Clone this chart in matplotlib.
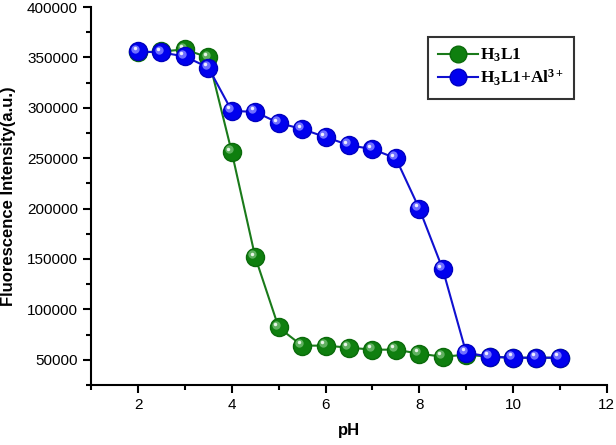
import matplotlib
matplotlib.use('Agg')
import matplotlib.pyplot as plt
import matplotlib.transforms as mtransforms
from matplotlib.lines import Line2D

ph = [2, 2.5, 3, 3.5, 4, 4.5, 5, 5.5, 6, 6.5, 7, 7.5, 8, 8.5, 9, 9.5, 10, 10.5, 11]
h3l1 = [355000, 356000, 358000, 350000, 256000, 152000, 82000, 64000, 64000, 62000,
        60000, 60000, 56000, 53000, 55000, 53000, 52000, 52000, 52000]
h3l1_al = [356000, 355000, 351000, 340000, 297000, 296000, 285000, 279000, 271000, 263000,
           259000, 250000, 200000, 140000, 57000, 53000, 52000, 52000, 52000]

plt.rcParams['font.family'] = ['Liberation Sans', 'DejaVu Sans']
plt.rcParams['mathtext.fontset'] = 'custom'
plt.rcParams['mathtext.rm'] = 'Liberation Serif:bold'
plt.rcParams['mathtext.bf'] = 'Liberation Serif:bold'
plt.rcParams['mathtext.it'] = 'Liberation Serif:bold'

fig = plt.figure(figsize=(6.16, 4.45), dpi=100)
ax = fig.add_axes([0.148, 0.135, 0.837, 0.849])

ms = 13
# shiny sphere look: base ball + lighter highlight
hl = mtransforms.offset_copy(ax.transData, fig=fig, x=-2, y=2, units='points')
hl2 = mtransforms.offset_copy(ax.transData, fig=fig, x=-2.5, y=2.5, units='points')

ax.plot(ph, h3l1, color='#1a7a1a', lw=1.5, marker='o', ms=ms, mfc='#0f7f0f', mec='#0a6a0a', zorder=2)
ax.plot(ph, h3l1, ls='None', marker='o', ms=6, mfc='#5fb05f', mec='none', transform=hl, zorder=2.1)
ax.plot(ph, h3l1, ls='None', marker='o', ms=2.5, mfc='#e8f5e8', mec='none', transform=hl2, zorder=2.2)

ax.plot(ph, h3l1_al, color='#1010d0', lw=1.5, marker='o', ms=ms, mfc='#0000ee', mec='#0000c0', zorder=3)
ax.plot(ph, h3l1_al, ls='None', marker='o', ms=6, mfc='#6f6fff', mec='none', transform=hl, zorder=3.1)
ax.plot(ph, h3l1_al, ls='None', marker='o', ms=2.5, mfc='#eeeeff', mec='none', transform=hl2, zorder=3.2)

ax.set_xlim(1, 12)
ax.set_ylim(25000, 400000)
ax.set_xticks([2, 4, 6, 8, 10, 12])
ax.set_xticks([1, 3, 5, 7, 9, 11], minor=True)
ax.set_yticks(range(50000, 400001, 50000))
ax.set_yticks(range(25000, 400001, 50000), minor=True)
for s in ['top', 'right']:
    ax.spines[s].set_visible(False)
for s in ['left', 'bottom']:
    ax.spines[s].set_linewidth(1.5)
ax.tick_params(which='major', length=6, width=1.5, labelsize=11)
ax.tick_params(which='minor', length=3.5, width=1.5)

ax.set_xlabel('pH', fontsize=12, fontweight='bold', labelpad=8)
ax.set_ylabel('Fluorescence Intensity(a.u.)', fontsize=12, fontweight='bold', labelpad=8)

g = Line2D([], [], color='#1a7a1a', lw=1.5, marker='o', ms=12, mfc='#0f7f0f', mec='#0a6a0a')
b = Line2D([], [], color='#1010d0', lw=1.5, marker='o', ms=12, mfc='#0000ee', mec='#0000c0')
leg = ax.legend([g, b], [r'H$_3$L1', r'H$_3$L1+Al$^{3+}$'],
                loc='upper left', bbox_to_anchor=(0.636, 0.945), frameon=True, fancybox=False,
                edgecolor='black', handlelength=2.3, handletextpad=0.1, borderpad=0.6,
                labelspacing=0.2,
                prop={'family': 'Liberation Serif', 'weight': 'bold', 'size': 12.5})
leg.get_frame().set_linewidth(1.5)

fig.savefig('out.png', dpi=100)
